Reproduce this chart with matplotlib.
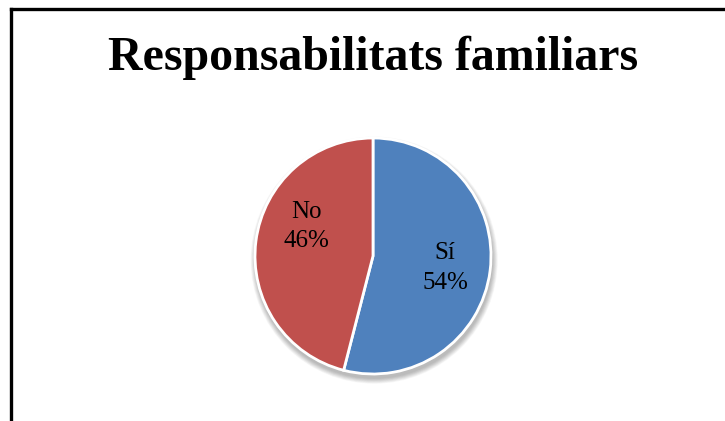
import matplotlib
matplotlib.use("Agg")
import matplotlib.pyplot as plt
from matplotlib.lines import Line2D
from matplotlib.patches import Ellipse

title = "Responsabilitats familiars"
categories = ["Sí", "No"]
values = [54, 46]
colors = ["#4F81BD", "#C0504D"]

W, H = 725, 421
fig = plt.figure(figsize=(W/100, H/100), dpi=100)
fig.patch.set_facecolor("white")

# frame
fig.add_artist(Line2D([10.5/W, 1.0], [1-8.5/H, 1-8.5/H], color="black", lw=2.4, transform=fig.transFigure))
fig.add_artist(Line2D([10.5/W, 10.5/W], [0, 1-8.5/H], color="black", lw=2.4, transform=fig.transFigure))

fig.text(373/W, 1-58/H, title, ha="center", va="center", fontsize=34.5,
         fontweight="bold", family="Liberation Serif")

cx, cy, r = 373, 421-256, 118
ax = fig.add_axes([(cx-r*1.2)/W, (cy-r*1.2)/H, 2.4*r/W, 2.4*r/H])

# soft shadow
for i in range(12):
    s = 1.0 + 0.004*(12-i)
    ax.add_patch(Ellipse((0.01, -0.035), 2*s, 2*s, color="black", alpha=0.025, lw=0, zorder=0))

wedges, _ = ax.pie(values, colors=colors, startangle=90, counterclock=False,
                   radius=1.0, wedgeprops=dict(edgecolor="white", linewidth=2))
for w in wedges:
    w.set_zorder(2)
ax.set_xlim(-1.2, 1.2)
ax.set_ylim(-1.2, 1.2)
ax.set_aspect("equal")
ax.axis("off")

label_pos = [(0.61, -0.10), (-0.56, 0.25)]
for cat, v, (lx, ly) in zip(categories, values, label_pos):
    ax.text(lx, ly, f"{cat}\n{v}%", ha="center", va="center", fontsize=18,
            family="Liberation Serif", linespacing=1.45, zorder=3)

fig.savefig("out.png", dpi=100)
